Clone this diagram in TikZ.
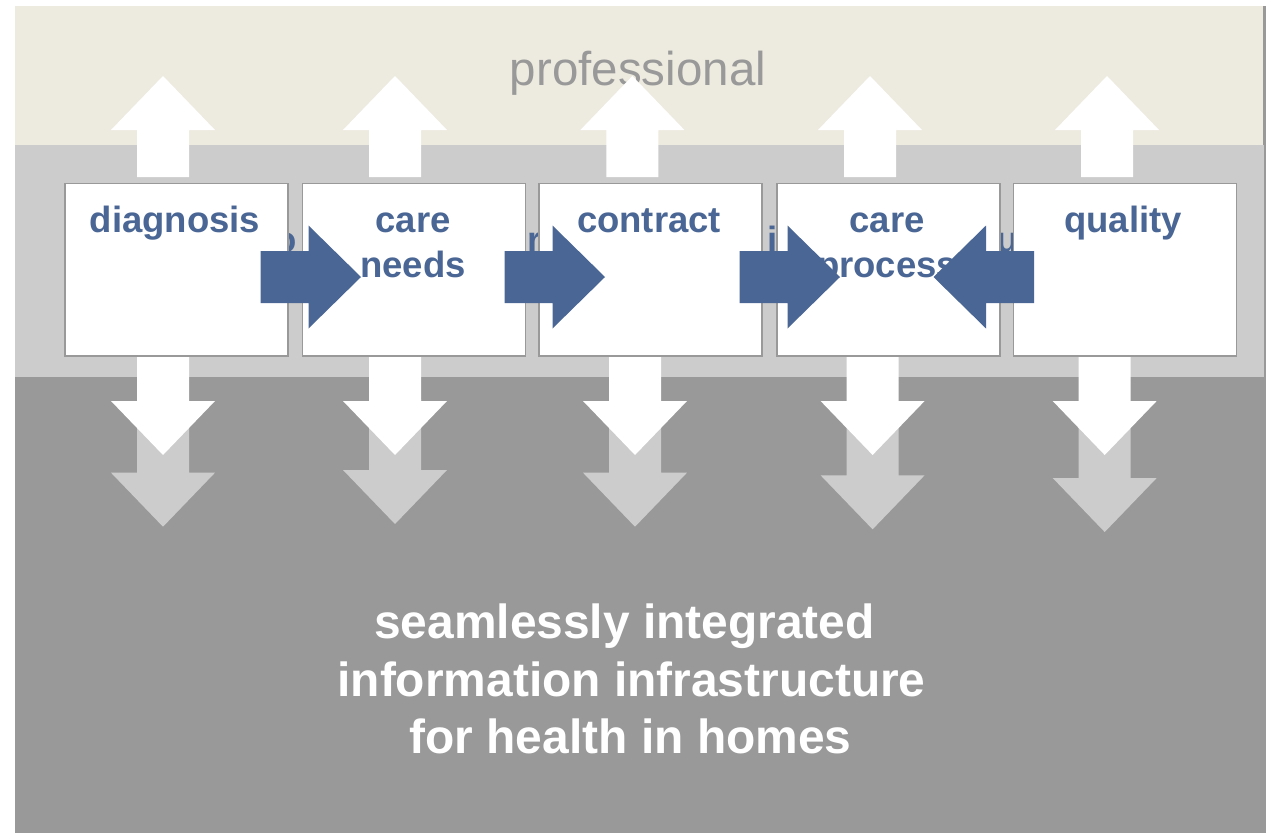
\documentclass[tikz,border=0pt]{standalone}
\usepackage{fontspec}
\setmainfont{Liberation Sans}
\definecolor{beige}{HTML}{EDEBE0}
\definecolor{lgray}{HTML}{CCCCCC}
\definecolor{dgray}{HTML}{999999}
\definecolor{bblue}{HTML}{4A6694}
\definecolor{tgray}{HTML}{999999}
\begin{document}
\begin{tikzpicture}[x=1pt,y=-1pt,
  boxstyle/.style={draw=dgray,line width=1.6pt,fill=white,minimum width=223pt,minimum height=172.5pt,inner sep=0pt,anchor=north west},
  lbl/.style={text=bblue,font=\fontsize{36.5}{45}\selectfont\bfseries,anchor=base,inner sep=0pt},
  hid/.style={text=bblue,font=\fontsize{36.5}{45}\selectfont\bfseries,anchor=base west,inner sep=0pt},
  bottomtxt/.style={text=white,font=\fontsize{47.9}{57}\selectfont\bfseries,anchor=base,inner sep=0pt},
  pics/uparr/.style={code={\fill[white] (0,0) -- (52,54) -- (26,54) -- (26,101) -- (-26,101) -- (-26,54) -- (-52,54) -- cycle;}},
  pics/downarr/.style={code={\fill[white] (0,0) -- (52,-54) -- (26,-54) -- (26,-98) -- (-26,-98) -- (-26,-54) -- (-52,-54) -- cycle;}},
  pics/grayarr/.style={code={\fill[lgray] (0,0) -- (52,-54) -- (26,-54) -- (26,-125) -- (-26,-125) -- (-26,-54) -- (-52,-54) -- cycle;}},
  pics/rarr/.style={code={\fill[bblue] (0,0) -- (-52.5,-51.5) -- (-52.5,-26) -- (-100.5,-26) -- (-100.5,26) -- (-52.5,26) -- (-52.5,51.5) -- cycle;}},
  pics/larr/.style={code={\fill[bblue] (0,0) -- (52.5,-51.5) -- (52.5,-26) -- (100.5,-26) -- (100.5,26) -- (52.5,26) -- (52.5,51.5) -- cycle;}}
]
\useasboundingbox (0,0) rectangle (1266,833);
\fill[white] (0,0) rectangle (1266,833);
% bands
\fill[dgray] (15,6) rectangle (1266,833);
\fill[beige] (15,6) rectangle (1263,145);
\fill[lgray] (15,145) rectangle (1264,377);
% top label
\node[text=tgray,font=\fontsize{47.5}{57}\selectfont,anchor=base,inner sep=0pt] (prof) at (638,85) {professional};
% hidden text fragments behind the boxes
\node[hid] (h1) at (274,252) {o};
\node[hid] (h2) at (527.6,252) {r};
\node[hid] (h3) at (767.5,252) {i};
\node[hid] (h4) at (996.6,252) {u};
% gray down arrows
\pic at (163,526.7) {grayarr};
\pic at (395,524) {grayarr};
\pic at (635,526.7) {grayarr};
\pic at (872.6,529.3) {grayarr};
\pic at (1104.7,532) {grayarr};
% white down arrows
\pic at (163,455) {downarr};
\pic at (395,455) {downarr};
\pic at (635,455) {downarr};
\pic at (872.6,455) {downarr};
\pic at (1104.7,455) {downarr};
% white up arrows
\pic at (163,76) {uparr};
\pic at (395,76) {uparr};
\pic at (632.4,76) {uparr};
\pic at (870,76) {uparr};
\pic at (1107,76) {uparr};
% boxes
\node[boxstyle] (b1) at (64.1,182.5) {};
\node[boxstyle] (b2) at (301.6,182.5) {};
\node[boxstyle] (b3) at (538.4,182.5) {};
\node[boxstyle] (b4) at (776,182.5) {};
\node[boxstyle] (b5) at (1012.8,182.5) {};
% labels
\node[lbl] (t1) at (175,232) {diagnosis};
\node[lbl] (t2a) at (413,232) {care};
\node[lbl] (t2b) at (413,277) {needs};
\node[lbl] (t3) at (649,232) {contract};
\node[lbl] (t4a) at (887,232) {care};
\node[lbl] (t4b) at (887,277) {process};
\node[lbl] (t5) at (1123,232) {quality};
% blue arrows
\pic at (361,277) {rarr};
\pic at (605,277) {rarr};
\pic at (840,277) {rarr};
\pic at (933.5,277) {larr};
% bottom text
\node[bottomtxt] (l1) at (624.5,638) {seamlessly integrated};
\node[bottomtxt] (l2) at (631.5,696) {information infrastructure};
\node[bottomtxt] (l3) at (630.5,753) {for health in homes};
\end{tikzpicture}
\end{document}
